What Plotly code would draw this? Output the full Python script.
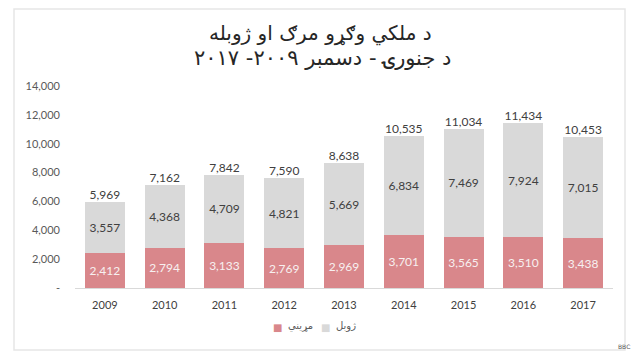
import plotly.graph_objects as go

years = ["2009", "2010", "2011", "2012", "2013", "2014", "2015", "2016", "2017"]
deaths = [2412, 2794, 3133, 2769, 2969, 3701, 3565, 3510, 3438]
injuries = [3557, 4368, 4709, 4821, 5669, 6834, 7469, 7924, 7015]
totals = [5969, 7162, 7842, 7590, 8638, 10535, 11034, 11434, 10453]
tick_vals = [0, 2000, 4000, 6000, 8000, 10000, 12000, 14000]
tick_text = ["-", "2,000", "4,000", "6,000", "8,000", "10,000", "12,000", "14,000"]
name_deaths = "مړيني"
name_injuries = "ژوبل"
title1 = "د ملکي وګړو مرګ او ژوبله"
title2 = "د جنورۍ - دسمبر ٢٠٠٩- ٢٠١٧"

PINK = "#D9878B"
GRAY = "#D9D9D9"
NUMFONT = "Lato"
ARFONT = "DejaVu Sans"

# page body has an 8px margin; work in screen pixels and shift
OFF = 8
FW, FH = 640 - 2 * OFF, 360 - 2 * OFF

fig = go.Figure()
fig.add_trace(go.Bar(
    x=years, y=deaths, name=name_deaths, marker=dict(color=PINK, line=dict(width=0)),
    text=[f"{v:,}" for v in deaths], textposition="inside", insidetextanchor="middle",
    textfont=dict(family=NUMFONT, size=12, color="#F7F0F0"), hoverinfo="skip",
))
fig.add_trace(go.Bar(
    x=years, y=injuries, name=name_injuries, marker=dict(color=GRAY, line=dict(width=0)),
    text=[f"{v:,}" for v in injuries], textposition="inside", insidetextanchor="middle",
    textfont=dict(family=NUMFONT, size=12, color="#404040"), hoverinfo="skip",
))
fig.add_trace(go.Scatter(
    x=years, y=totals, mode="text", text=[f"{v:,}" for v in totals],
    marker=dict(size=20),
    textposition="top center", textfont=dict(family=NUMFONT, size=12, color="#404040"),
    showlegend=False, hoverinfo="skip",
))

# plot area in screen pixels
L, R, T, B = 75, 613, 86, 288
W, H = R - L, B - T
def px(xp):
    return (xp - L) / W
def py(yp):
    return (B - yp) / H

legend_items = [(name_deaths, PINK, 277), (name_injuries, GRAY, 325)]
anns = [
    dict(text=title1, xref="paper", yref="paper", x=px(320), y=py(33), showarrow=False,
         font=dict(family=ARFONT, size=20, color="#262626"), xanchor="center", yanchor="middle"),
    dict(text=title2, xref="paper", yref="paper", x=px(322), y=py(58), showarrow=False,
         font=dict(family=ARFONT, size=21, color="#262626"), xanchor="center", yanchor="middle"),
    dict(text="BBC", xref="paper", yref="paper", x=px(624), y=py(346), showarrow=False,
         font=dict(family="DejaVu Sans", size=6, color="#555555"), xanchor="center", yanchor="middle"),
]
for name, col, xs in legend_items:
    anns.append(dict(text="■", xref="paper", yref="paper", x=px(xs), y=py(327), showarrow=False,
                     font=dict(family="DejaVu Sans", size=10, color=col), xanchor="center", yanchor="middle"))
    anns.append(dict(text=name, xref="paper", yref="paper", x=px(xs + 9), y=py(326), showarrow=False,
                     font=dict(family=ARFONT, size=10, color="#595959"), xanchor="left", yanchor="middle"))

fig.update_layout(
    width=FW, height=FH,
    margin=dict(l=L - OFF, r=FW - (R - OFF), t=T - OFF, b=FH - (B - OFF)),
    paper_bgcolor="white", plot_bgcolor="white",
    barmode="stack", bargap=0.33,
    showlegend=False,
    xaxis=dict(showgrid=False, showline=True, linecolor="#D9D9D9", linewidth=1,
               ticks="", ticklabelstandoff=7,
               tickfont=dict(family=NUMFONT, size=11, color="#404040")),
    yaxis=dict(range=[0, 14000], tickvals=tick_vals, ticktext=tick_text, showgrid=False,
               zeroline=False, showline=False, ticks="", ticklabelstandoff=14,
               tickfont=dict(family=NUMFONT, size=11, color="#595959")),
    annotations=anns,
    shapes=[
        dict(type="rect", xref="paper", yref="paper", x0=px(14), x1=px(625), y0=py(350), y1=py(9),
             line=dict(color="#E6E6E6", width=1.5), fillcolor="rgba(0,0,0,0)", layer="below"),
    ],
)

fig.write_html("out.html")
